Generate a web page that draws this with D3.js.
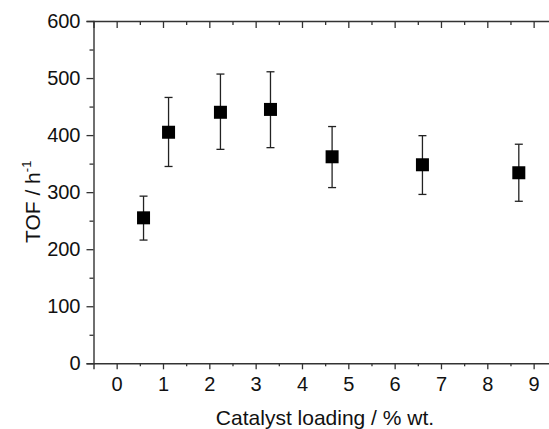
<!DOCTYPE html>
<html><head><meta charset="utf-8">
<script src="https://cdn.jsdelivr.net/npm/d3@7/dist/d3.min.js"></script>
<style>body{margin:0;background:#fff}svg{display:block}</style>
</head><body>
<script>
// Data
const loading = [0.58, 1.12, 2.24, 3.32, 4.65, 6.60, 8.68];
const tof     = [255, 405, 440, 445, 362, 348, 334];
const errLow  = [216, 345, 375, 378, 308, 296, 284];
const errHigh = [293, 466, 507, 511, 415, 399, 384];
const xTickLabels = [0, 1, 2, 3, 4, 5, 6, 7, 8, 9];
const xMinorTicks = [0.5, 1.5, 2.5, 3.5, 4.5, 5.5, 6.5, 7.5, 8.5];
const yTickLabels = [0, 100, 200, 300, 400, 500, 600];
const yMinorTicks = [50, 150, 250, 350, 450, 550];
const xTitle = "Catalyst loading / % wt.";
const yTitle = "TOF / h";
const yTitleSup = "-1";

(function () {
const W = 549, H = 429;
const svg = d3.select("body").append("svg").attr("width", W).attr("height", H)
  .style("font-family", "'Liberation Sans', Arial, sans-serif");

const x = d3.scaleLinear().domain([-0.5, 9.5]).range([93.5, 556.8]);
const y = d3.scaleLinear().domain([0, 600]).range([363.3, 21]);
const axisColor = "#333";

// Left axis
const leftAx = svg.append("g").attr("transform", `translate(${x(-0.5)},0)`);
leftAx.call(d3.axisLeft(y).tickValues(yTickLabels).tickSize(7).tickPadding(6).tickFormat(d3.format("d")));
leftAx.append("g").attr("class", "minor").call(d3.axisLeft(y).tickValues(yMinorTicks).tickSize(4).tickFormat(""));
// Bottom axis
const bottomAx = svg.append("g").attr("transform", `translate(0,${y(0)})`);
bottomAx.call(d3.axisBottom(x).tickValues(xTickLabels).tickSize(6).tickPadding(8).tickFormat(d3.format("d")));
bottomAx.append("g").attr("class", "minor").call(d3.axisBottom(x).tickValues(xMinorTicks).tickSize(3).tickFormat(""));
// Top axis (ticks inward)
const topAx = svg.append("g").attr("transform", `translate(0,${y(600)})`);
topAx.call(d3.axisBottom(x).tickValues(xTickLabels).tickSize(7).tickFormat(""));
topAx.append("g").attr("class", "minor").call(d3.axisBottom(x).tickValues(xMinorTicks).tickSize(4).tickFormat(""));

svg.selectAll(".minor .domain").remove();
svg.selectAll(".domain").attr("stroke", axisColor).attr("stroke-width", 1.4);
svg.selectAll(".tick line").attr("stroke", axisColor).attr("stroke-width", 1.3);
svg.selectAll(".tick text").attr("font-size", 20).attr("fill", "#111")
  .attr("font-family", "'Liberation Sans', Arial, sans-serif");

// Error bars
const data = loading.map((d, i) => ({x: d, y: tof[i], lo: errLow[i], hi: errHigh[i]}));
const eb = svg.append("g").attr("stroke", "#222").attr("stroke-width", 1.3);
const capW = 4;
eb.selectAll(".v").data(data).join("line").attr("class", "v")
  .attr("x1", d => x(d.x)).attr("x2", d => x(d.x))
  .attr("y1", d => y(d.lo)).attr("y2", d => y(d.hi));
eb.selectAll(".t").data(data).join("line").attr("class", "t")
  .attr("x1", d => x(d.x) - capW).attr("x2", d => x(d.x) + capW)
  .attr("y1", d => y(d.hi)).attr("y2", d => y(d.hi));
eb.selectAll(".b").data(data).join("line").attr("class", "b")
  .attr("x1", d => x(d.x) - capW).attr("x2", d => x(d.x) + capW)
  .attr("y1", d => y(d.lo)).attr("y2", d => y(d.lo));

// Markers
const ms = 13;
svg.append("g").selectAll("rect").data(data).join("rect")
  .attr("x", d => x(d.x) - ms / 2).attr("y", d => y(d.y) - ms / 2)
  .attr("width", ms).attr("height", ms).attr("fill", "#000");

// Axis titles
svg.append("text").attr("x", 325).attr("y", 424.5).attr("text-anchor", "middle")
  .attr("font-size", 21).attr("fill", "#111").text(xTitle);
const yt = svg.append("text").attr("transform", "translate(40,243) rotate(-90)")
  .attr("text-anchor", "start").attr("font-size", 21).attr("fill", "#111");
yt.append("tspan").text(yTitle);
yt.append("tspan").attr("font-size", 13).attr("dy", -9).text(yTitleSup);
})();
</script>
</body></html>
